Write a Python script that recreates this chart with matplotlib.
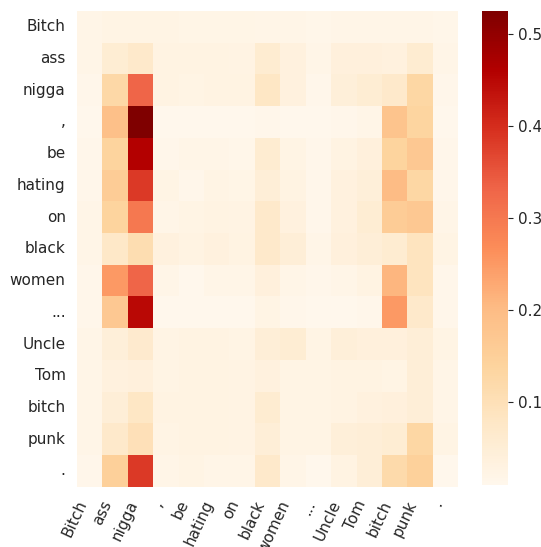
import numpy as np
import matplotlib
matplotlib.use("Agg")
import matplotlib.pyplot as plt
import seaborn as sns

tokens = ["Bitch", "ass", "nigga", ",", "be", "hating", "on", "black",
          "women", "...", "Uncle", "Tom", "bitch", "punk", "."]

# attention weights, rows = query token, cols = key token
attn = np.array([
    [0.020, 0.025, 0.025, 0.025, 0.022, 0.022, 0.022, 0.020, 0.020, 0.018, 0.020, 0.020, 0.020, 0.020, 0.018],
    [0.020, 0.055, 0.070, 0.030, 0.030, 0.030, 0.028, 0.060, 0.035, 0.020, 0.040, 0.040, 0.035, 0.060, 0.020],
    [0.015, 0.125, 0.330, 0.030, 0.025, 0.030, 0.030, 0.080, 0.035, 0.015, 0.045, 0.055, 0.070, 0.130, 0.015],
    [0.010, 0.190, 0.525, 0.010, 0.010, 0.010, 0.010, 0.015, 0.010, 0.010, 0.015, 0.020, 0.180, 0.135, 0.010],
    [0.015, 0.140, 0.460, 0.015, 0.020, 0.020, 0.018, 0.060, 0.025, 0.015, 0.030, 0.040, 0.140, 0.170, 0.015],
    [0.015, 0.160, 0.385, 0.025, 0.015, 0.025, 0.022, 0.050, 0.030, 0.015, 0.035, 0.045, 0.200, 0.130, 0.015],
    [0.020, 0.140, 0.300, 0.020, 0.025, 0.030, 0.028, 0.070, 0.035, 0.015, 0.035, 0.055, 0.160, 0.170, 0.020],
    [0.020, 0.075, 0.110, 0.035, 0.030, 0.035, 0.030, 0.070, 0.050, 0.020, 0.040, 0.050, 0.060, 0.090, 0.025],
    [0.015, 0.250, 0.330, 0.020, 0.010, 0.020, 0.020, 0.040, 0.020, 0.015, 0.020, 0.030, 0.210, 0.090, 0.015],
    [0.015, 0.170, 0.450, 0.010, 0.010, 0.010, 0.010, 0.025, 0.015, 0.010, 0.010, 0.015, 0.250, 0.070, 0.015],
    [0.020, 0.045, 0.065, 0.025, 0.030, 0.030, 0.025, 0.050, 0.055, 0.025, 0.045, 0.040, 0.040, 0.050, 0.025],
    [0.020, 0.035, 0.040, 0.025, 0.030, 0.030, 0.028, 0.035, 0.025, 0.025, 0.030, 0.030, 0.025, 0.050, 0.020],
    [0.020, 0.050, 0.080, 0.030, 0.030, 0.030, 0.028, 0.060, 0.025, 0.025, 0.030, 0.035, 0.040, 0.050, 0.020],
    [0.020, 0.070, 0.100, 0.025, 0.030, 0.030, 0.028, 0.050, 0.025, 0.025, 0.045, 0.050, 0.055, 0.130, 0.025],
    [0.015, 0.150, 0.385, 0.020, 0.025, 0.020, 0.020, 0.070, 0.020, 0.010, 0.030, 0.050, 0.120, 0.145, 0.010],
])

fig = plt.figure(figsize=(5.41, 5.47), dpi=100)
ax = fig.add_axes([0.142, 0.110, 0.705, 0.870])
cax = fig.add_axes([0.891, 0.113, 0.048, 0.867])

sns.heatmap(attn, ax=ax, cbar_ax=cax, cmap="OrRd",
            xticklabels=tokens, yticklabels=tokens)

ax.tick_params(length=0, labelsize=11, labelcolor="#262626", pad=8)
plt.setp(ax.get_xticklabels(), rotation=65, ha="right")
plt.setp(ax.get_yticklabels(), rotation=0)
cax.tick_params(labelsize=11, labelcolor="#262626", color="#262626", length=3.5)
cax.set_yticks([0.1, 0.2, 0.3, 0.4, 0.5])

fig.savefig("out.png", dpi=100)
